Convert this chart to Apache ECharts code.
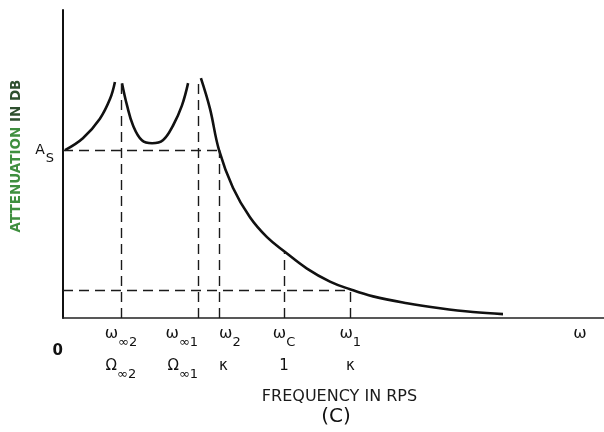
<!DOCTYPE html>
<html><head><meta charset="utf-8">
<script src="https://cdn.jsdelivr.net/npm/echarts@6/dist/echarts.min.js"></script>
<style>html,body{margin:0;padding:0;background:#fff}#c{width:604px;height:432px}</style>
</head><body><div id="c"></div>
<script>
// ---------- data (normalised frequency, ωc = 1; attenuation in arbitrary dB units) ----------
const lobe1X = [0.009, 0.090, 0.167, 0.213, 0.235];
const lobe1Y = [56.7, 60.7, 67.3, 74.0, 79.7];
const lobe2X = [0.267, 0.290, 0.317, 0.357, 0.403, 0.452, 0.498, 0.538, 0.566];
const lobe2Y = [79.3, 71.7, 65.0, 60.0, 59.0, 60.0, 65.0, 71.7, 79.3];
const tailX = [0.624, 0.665, 0.706, 0.769, 0.846, 0.923, 1.005, 1.104, 1.208, 1.299, 1.403, 1.557, 1.706, 1.855, 1.991];
const tailY = [81.0, 70.7, 56.7, 44.0, 34.0, 27.3, 22.3, 16.7, 12.3, 9.7, 7.3, 5.0, 3.3, 2.0, 1.3];

// guide lines: ω∞2, ω∞1, ω2, ωc, ω1 and their heights
const markFreqs = [0.262, 0.611, 0.706, 1.0, 1.3];
const markTops = [79.7, 80.7, 56.7, 22.3, 9.3];
// horizontal levels: A_S and attenuation at ω1
const levelValues = [56.7, 9.3];
const levelEnds = [0.706, 1.3];

// tick labels
const tickFreqs = [0, 0.262, 0.611, 0.706, 1.0, 1.3, 2.339];
const upperMain = ['0', 'ω', 'ω', 'ω', 'ω', 'ω', 'ω'];
const upperSub = ['', '∞2', '∞1', '2', 'C', '1', ''];
const lowerMain = ['', 'Ω', 'Ω', 'κ', '1', 'κ', ''];
const lowerSub = ['', '∞2', '∞1', '', '', '', ''];
const yLabelMain = 'A';
const yLabelSub = 'S';
const xTitle = 'FREQUENCY IN RPS';
const figTag = '(C)';
const yTitleA = 'ATTENUATION';
const yTitleB = 'IN DB';

// ---------- styles ----------
const FONT = 'DejaVu Sans';
const INK = '#111';
const TXT = '#111';
const labelAlign = ['right', 'center', 'right', 'left', 'center', 'center', 'center'];

const zip = (xs, ys) => xs.map((x, i) => [x, ys[i]]);
const curveStyle = { width: 2.6, color: INK };

const markData = [];
markFreqs.forEach((f, i) => markData.push([{ coord: [f, 0] }, { coord: [f, markTops[i]] }]));
levelValues.forEach((v, i) => markData.push([{ coord: [0, v] }, { coord: [levelEnds[i], v] }]));

function upperLabel(i) {
  if (i === 0) return '{z|' + upperMain[0] + '}';
  return '{w|' + upperMain[i] + '}' + (upperSub[i] ? '{s|' + upperSub[i] + '}' : '');
}
function lowerLabel(i) {
  if (!lowerMain[i]) return '';
  return '{W|' + lowerMain[i] + '}' + (lowerSub[i] ? '{t|' + lowerSub[i] + '}' : '');
}

const labelRich = {
  z: { fontFamily: FONT, fontSize: 15, fontWeight: 'bold', lineHeight: 14, verticalAlign: 'top', color: TXT, padding: [18, 0, 0, 0] },
  w: { fontFamily: FONT, fontSize: 16, lineHeight: 14, verticalAlign: 'top', color: TXT },
  s: { fontFamily: FONT, fontSize: 13, lineHeight: 14, verticalAlign: 'top', color: TXT, padding: [11, 0, 0, 0] },
  W: { fontFamily: FONT, fontSize: 15, lineHeight: 14, verticalAlign: 'top', color: TXT },
  t: { fontFamily: FONT, fontSize: 13, lineHeight: 14, verticalAlign: 'top', color: TXT, padding: [10, 0, 0, 0] }
};

function labelSeries(fmt, dist) {
  return {
    type: 'scatter', silent: true, symbolSize: 1, clip: false,
    itemStyle: { color: 'rgba(255,255,255,0)', opacity: 1 },
    data: tickFreqs.map((f, i) => ({ value: [f, 0], label: { align: labelAlign[i] } })),
    label: {
      show: true, position: 'bottom', distance: dist, color: TXT, opacity: 1,
      formatter: p => fmt(p.dataIndex),
      rich: labelRich
    }
  };
}

const chart = echarts.init(document.getElementById('c'), null, { renderer: 'canvas' });
chart.setOption({
  animation: false,
  backgroundColor: '#fff',
  grid: { left: 63, right: 0, top: 10, bottom: 110 },
  xAxis: {
    type: 'value', min: 0, max: 2.448,
    axisLine: { show: true, lineStyle: { color: '#222', width: 1.5 } },
    axisTick: { show: false }, splitLine: { show: false }, axisLabel: { show: false },
    name: '{f|' + xTitle + '}\n{c|' + figTag + '}',
    nameLocation: 'middle', nameGap: 70,
    nameTextStyle: {
      fontFamily: FONT, color: TXT,
      rich: {
        f: { fontFamily: FONT, fontSize: 16, lineHeight: 18, color: '#1a1a1a', padding: [0, 0, 0, 12] },
        c: { fontFamily: FONT, fontSize: 20, lineHeight: 22, color: '#111', padding: [0, 0, 0, 5] }
      }
    }
  },
  yAxis: {
    type: 'value', min: 0, max: 104,
    axisLine: { show: true, lineStyle: { color: '#111', width: 2 } },
    axisTick: { show: false }, splitLine: { show: false },
    axisLabel: {
      show: true, customValues: [levelValues[0]], margin: 9,
      formatter: () => '{a|' + yLabelMain + '}{s|' + yLabelSub + '}',
      rich: {
        a: { fontFamily: FONT, fontSize: 14, lineHeight: 14, verticalAlign: 'top', color: '#111', padding: [0, 1, 0, 0] },
        s: { fontFamily: FONT, fontSize: 13, lineHeight: 13, verticalAlign: 'top', color: '#111', padding: [9, 0, 0, 0] }
      }
    },
    name: '{g|' + yTitleA + '} {d|' + yTitleB + '}',
    nameLocation: 'middle', nameRotate: 90, nameGap: 40,
    nameTextStyle: {
      fontFamily: FONT, fontSize: 13.5, fontWeight: 'bold', color: '#2e4f2e',
      padding: [0, 0, 0, 16],
      rich: {
        g: { fontFamily: FONT, fontSize: 13.5, fontWeight: 'bold', color: '#3f8f3f' },
        d: { fontFamily: FONT, fontSize: 13.5, fontWeight: 'bold', color: '#2e4f2e' }
      }
    }
  },
  series: [
    { type: 'line', data: zip(lobe1X, lobe1Y), smooth: 0.4, showSymbol: false, silent: true, lineStyle: curveStyle },
    { type: 'line', data: zip(lobe2X, lobe2Y), smooth: 0.4, showSymbol: false, silent: true, lineStyle: curveStyle },
    {
      type: 'line', data: zip(tailX, tailY), smooth: 0.4, showSymbol: false, silent: true, lineStyle: curveStyle,
      markLine: {
        silent: true, symbol: ['none', 'none'], label: { show: false },
        lineStyle: { type: [10, 6], width: 1.4, color: '#1a1a1a' },
        emphasis: { disabled: true },
        data: markData
      }
    },
    labelSeries(upperLabel, 7),
    labelSeries(lowerLabel, 40)
  ]
});
</script>
</body></html>
